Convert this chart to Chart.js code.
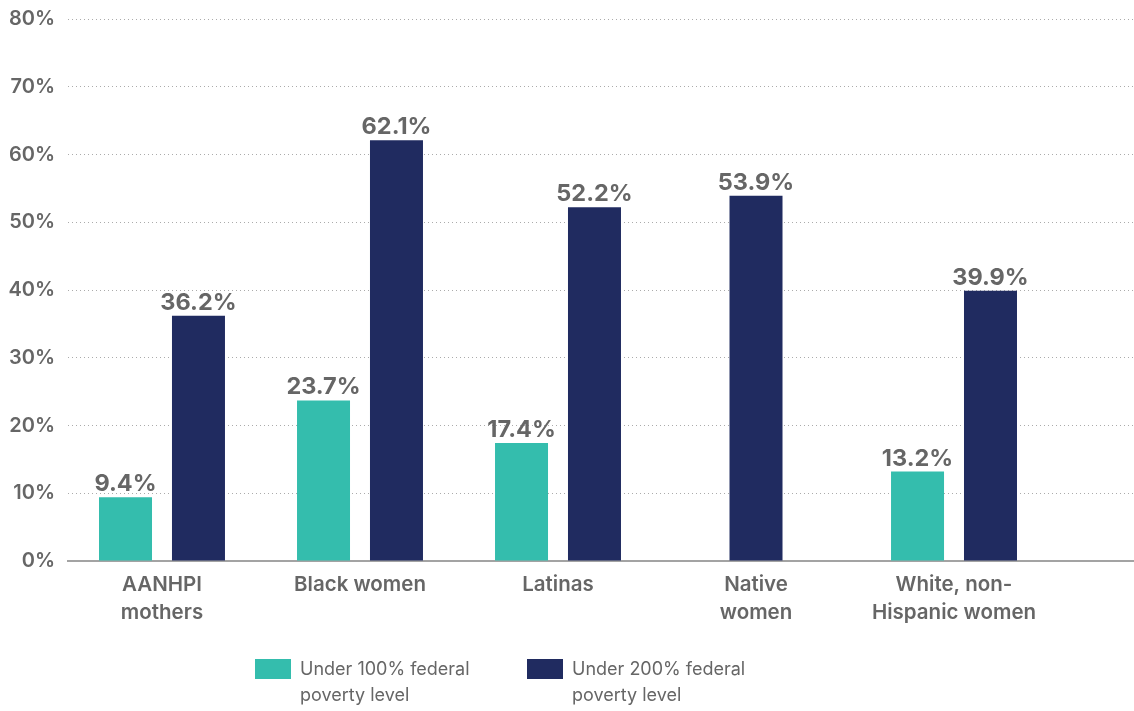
<!DOCTYPE html>
<html>
<head>
<meta charset="utf-8">
<script src="https://cdn.jsdelivr.net/npm/chart.js@4.4.1/dist/chart.umd.min.js"></script>
<style>
  html, body { margin: 0; padding: 0; background: #ffffff; }
  #wrap { position: relative; width: 1134px; height: 711px; }
  #chart { position: absolute; left: 0; top: 0; }
  #legend { position: absolute; left: 0; top: 656px; width: 1134px; height: 55px; }
  .item { position: absolute; top: 0; display: flex; align-items: flex-start; }
  .swatch { width: 36px; height: 20px; margin-top: 3px; flex: none; }
  .text { margin-left: 9px; width: 215px; font-family: Inter, sans-serif; font-size: 18px;
          line-height: 26px; color: #666666; }
</style>
</head>
<body>
<div id="wrap">
  <canvas id="chart" width="1134" height="711"></canvas>
  <div id="legend"></div>
</div>
<script>
// Groups along the horizontal axis (multi-line labels as arrays)
const categories = [
  ['AANHPI', 'mothers'],
  'Black women',
  'Latinas',
  ['Native', 'women'],
  ['White, non-', 'Hispanic women']
];

// Share of each group (%) by poverty threshold; no estimate for Native women under 100%
const under100 = [9.4, 23.7, 17.4, null, 13.2];
const under200 = [36.2, 62.1, 52.2, 53.9, 39.9];

const seriesNames = ['Under 100% federal poverty level', 'Under 200% federal poverty level'];
const seriesColors = ['#34bdad', '#202b60'];

// Y-axis tick values
const yTicks = [0, 10, 20, 30, 40, 50, 60, 70, 80];

const TEXT = '#666666';
const FONT = 'Inter, sans-serif';

const toPoints = (vals) => vals.map((v, i) => ({ x: i, y: v }));

// Value labels above each bar
const valueLabels = {
  id: 'valueLabels',
  afterDatasetsDraw(chart) {
    const { ctx } = chart;
    ctx.save();
    ctx.font = `700 23.5px ${FONT}`;
    ctx.fillStyle = TEXT;
    ctx.textAlign = 'center';
    ctx.textBaseline = 'alphabetic';
    chart.data.datasets.forEach((ds, di) => {
      const meta = chart.getDatasetMeta(di);
      meta.data.forEach((bar, i) => {
        const v = ds.data[i].y;
        if (v === null || v === undefined) return;
        ctx.fillText(v.toFixed(1) + '%', bar.x, bar.y - 6);
      });
    });
    ctx.restore();
  }
};

const chart = new Chart(document.getElementById('chart'), {
  type: 'bar',
  data: {
    datasets: [
      { label: seriesNames[0], data: toPoints(under100), backgroundColor: seriesColors[0] },
      { label: seriesNames[1], data: toPoints(under200), backgroundColor: seriesColors[1] }
    ]
  },
  options: {
    responsive: false,
    animation: false,
    devicePixelRatio: 1,
    skipNull: true,
    categoryPercentage: 0.737,
    barPercentage: 0.73,
    maxBarThickness: 53,
    layout: { padding: { top: 19, right: 0, bottom: 70, left: 0 } },
    plugins: {
      legend: { display: false },
      tooltip: { enabled: false }
    },
    scales: {
      x: {
        type: 'linear',
        offset: false,
        min: -0.4747,
        max: 4.909,
        afterFit(scale) { scale.height = 80; },
        afterBuildTicks(scale) {
          scale.ticks = categories.map((_, i) => ({ value: i }));
        },
        ticks: {
          autoSkip: false,
          maxRotation: 0,
          padding: 10,
          color: TEXT,
          font: { family: FONT, size: 20.5, weight: '600', lineHeight: 1.37 },
          callback: (v) => categories[v]
        },
        grid: { display: true, drawOnChartArea: false, drawTicks: false },
        border: { display: true, color: '#a3a3a3', width: 2 }
      },
      y: {
        min: 0,
        max: 80,
        afterFit(scale) {
          scale.width = 68;
          scale.paddingTop = 0;
          scale.paddingBottom = 0;
        },
        afterBuildTicks(scale) {
          scale.ticks = yTicks.map((v) => ({ value: v }));
        },
        ticks: {
          padding: 13,
          color: TEXT,
          font: { family: FONT, size: 20, weight: '600' },
          callback: (v) => v + '%'
        },
        grid: { color: '#ababab', lineWidth: 1, drawTicks: false },
        border: { display: false, dash: [1, 3] }
      }
    }
  },
  plugins: [valueLabels]
});

// Legend built from the chart's datasets
const legend = document.getElementById('legend');
const legendLeft = [255, 527];
chart.data.datasets.forEach((ds, i) => {
  const item = document.createElement('div');
  item.className = 'item';
  item.style.left = legendLeft[i] + 'px';
  const sw = document.createElement('div');
  sw.className = 'swatch';
  sw.style.background = ds.backgroundColor;
  const tx = document.createElement('div');
  tx.className = 'text';
  tx.textContent = ds.label;
  item.appendChild(sw);
  item.appendChild(tx);
  legend.appendChild(item);
});
</script>
</body>
</html>
